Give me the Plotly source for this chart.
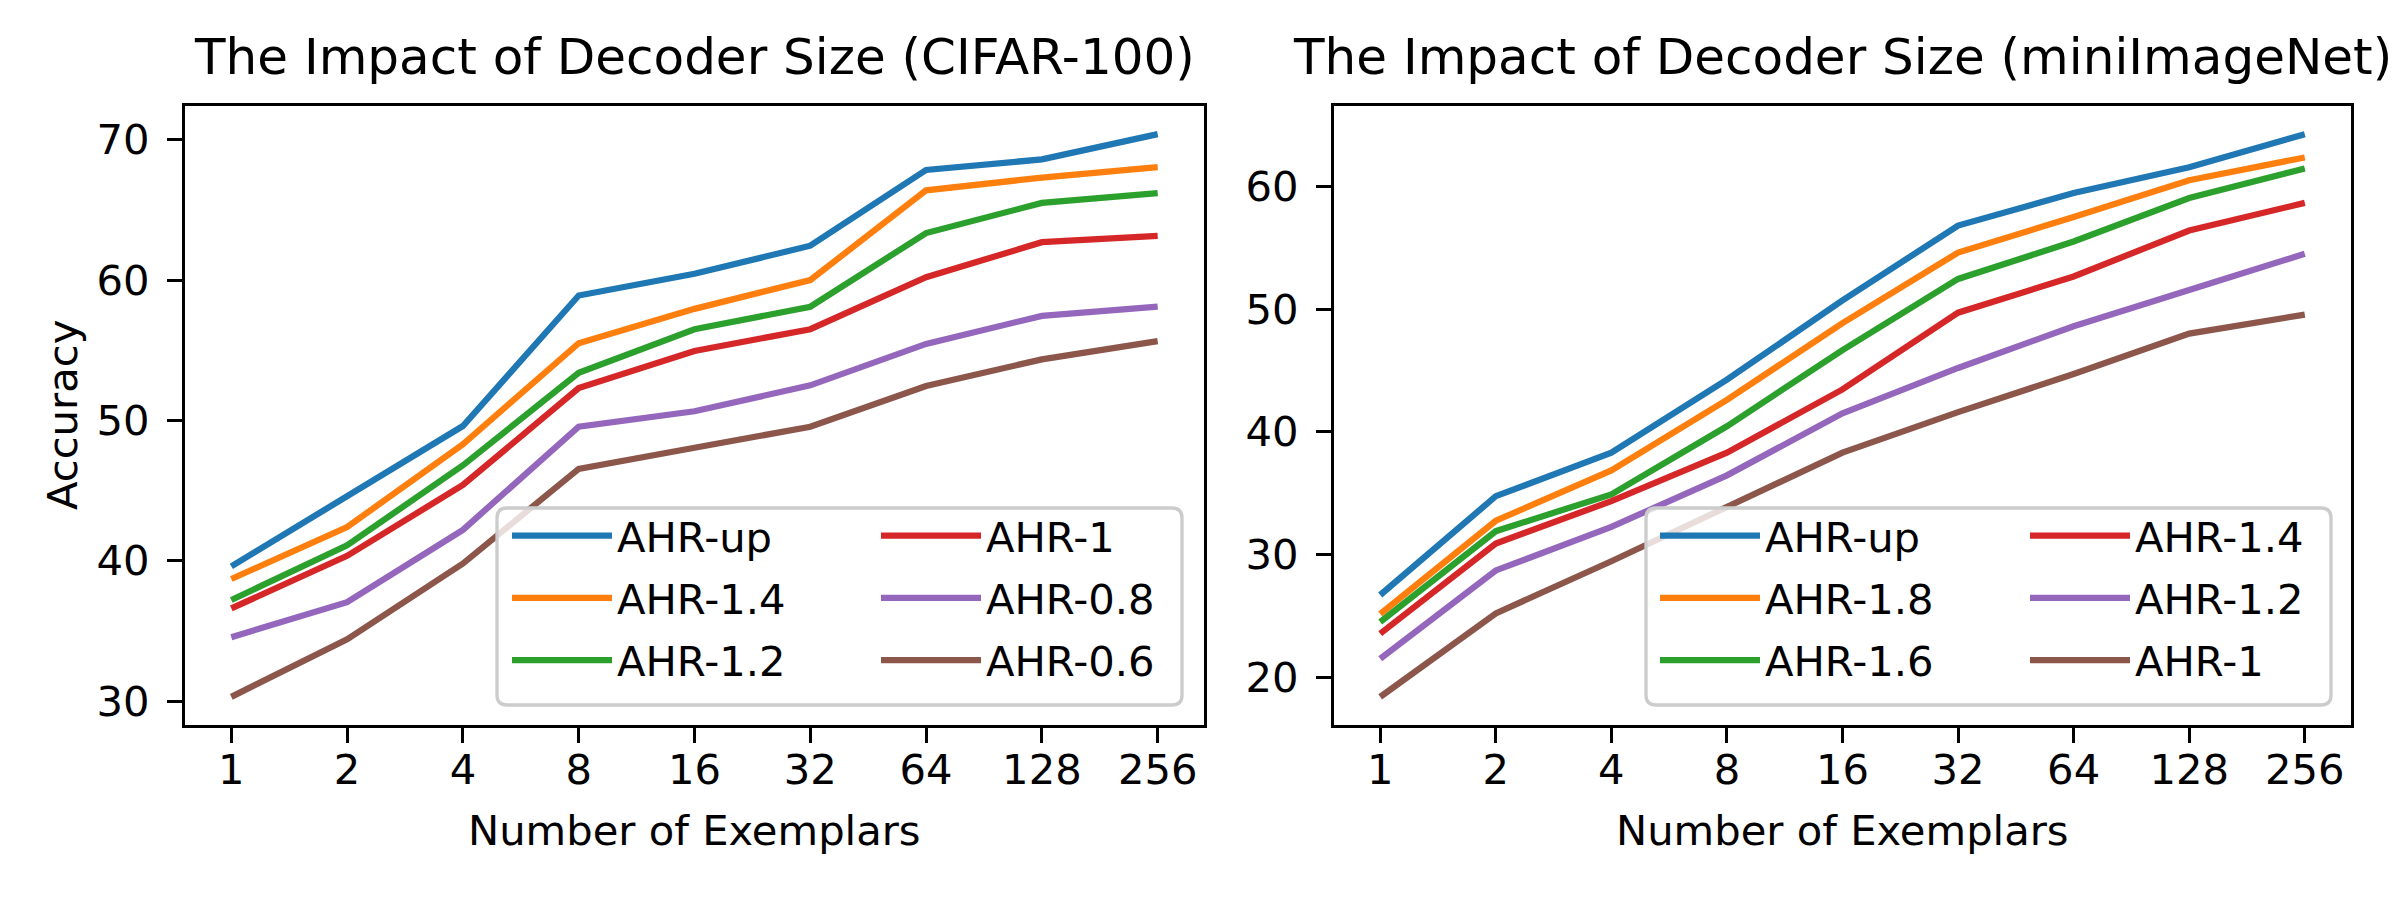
import plotly.graph_objects as go

exemplars = ["1", "2", "4", "8", "16", "32", "64", "128", "256"]

# CIFAR-100
cifar_names = ["AHR-up", "AHR-1.4", "AHR-1.2", "AHR-1", "AHR-0.8", "AHR-0.6"]
cifar_up = [39.6, 44.6, 49.6, 58.9, 60.45, 62.45, 67.85, 68.6, 70.4]
cifar_14 = [38.7, 42.4, 48.3, 55.5, 57.95, 60.0, 66.4, 67.3, 68.05]
cifar_12 = [37.2, 41.1, 46.8, 53.4, 56.5, 58.1, 63.35, 65.5, 66.2]
cifar_10 = [36.6, 40.35, 45.4, 52.3, 54.95, 56.5, 60.2, 62.7, 63.15]
cifar_08 = [34.55, 37.05, 42.2, 49.55, 50.65, 52.5, 55.45, 57.45, 58.1]
cifar_06 = [30.3, 34.4, 39.8, 46.55, 48.05, 49.55, 52.45, 54.35, 55.65]

# miniImageNet
mini_names = ["AHR-up", "AHR-1.8", "AHR-1.6", "AHR-1.4", "AHR-1.2", "AHR-1"]
mini_up = [26.7, 34.75, 38.3, 44.25, 50.7, 56.8, 59.45, 61.55, 64.25]
mini_18 = [25.15, 32.75, 36.85, 42.6, 48.85, 54.6, 57.5, 60.5, 62.35]
mini_16 = [24.5, 31.9, 34.9, 40.45, 46.65, 52.45, 55.5, 59.05, 61.45]
mini_14 = [23.55, 30.9, 34.35, 38.3, 43.45, 49.7, 52.65, 56.4, 58.65]
mini_12 = [21.5, 28.7, 32.25, 36.45, 41.5, 45.2, 48.6, 51.6, 54.5]
mini_10 = [18.4, 25.2, 29.45, 33.9, 38.3, 41.6, 44.7, 48.0, 49.55]

titles = ["The Impact of Decoder Size (CIFAR-100)", "The Impact of Decoder Size (miniImageNet)"]
colors = ["#1f77b4", "#ff7f0e", "#2ca02c", "#d62728", "#9467bd", "#8c564b"]

cifar_series = [cifar_up, cifar_14, cifar_12, cifar_10, cifar_08, cifar_06]
mini_series = [mini_up, mini_18, mini_16, mini_14, mini_12, mini_10]

W, H = 2400, 900
FONT = "DejaVu Sans"
FS = 41.7
TFS = 50
LW = 6.25
SPW = 3.3

fig = go.Figure()

legend_ids = [["legend", "legend2"], ["legend3", "legend4"]]
for p, (names, series) in enumerate([(cifar_names, cifar_series), (mini_names, mini_series)]):
    xa = "x" if p == 0 else "x2"
    ya = "y" if p == 0 else "y2"
    for i, (nm, ys) in enumerate(zip(names, series)):
        fig.add_trace(go.Scatter(
            x=exemplars, y=ys, name=nm, mode="lines",
            line=dict(color=colors[i], width=LW),
            xaxis=xa, yaxis=ya,
            legend=legend_ids[p][i // 3],
            legendgroup=f"g{p}_{i}",
            showlegend=True,
        ))

def yrange(series):
    lo = min(min(s) for s in series)
    hi = max(max(s) for s in series)
    m = (hi - lo) * 0.05
    return [lo - m, hi + m]

ml, mr, mt, mb = 0, 0, 106, 175
plot_h = H - mt - mb
dom1 = [185 / W, 1204 / W]
dom2 = [1334 / W, 2351 / W]

axis_common = dict(
    showline=True, mirror=True, linecolor="black", linewidth=SPW,
    ticks="outside", ticklen=15, tickwidth=SPW, tickcolor="black",
    showgrid=False, zeroline=False,
    tickfont=dict(family=FONT, size=FS, color="black"),
)

fig.update_layout(
    width=W, height=H,
    margin=dict(l=ml, r=mr, t=mt, b=mb),
    paper_bgcolor="white", plot_bgcolor="white",
    font=dict(family=FONT, size=FS, color="black"),
    xaxis=dict(domain=dom1, type="category", range=[-0.4, 8.4], anchor="y",
               ticklabelstandoff=-9, **axis_common),
    yaxis=dict(domain=[0, 1], range=yrange(cifar_series), anchor="x",
               tickvals=[30, 40, 50, 60, 70], ticklabelstandoff=9, **axis_common),
    xaxis2=dict(domain=dom2, type="category", range=[-0.4, 8.4], anchor="y2",
                ticklabelstandoff=-9, **axis_common),
    yaxis2=dict(domain=[0, 1], range=yrange(mini_series), anchor="x2",
                tickvals=[20, 30, 40, 50, 60], ticklabelstandoff=9, **axis_common),
    showlegend=True,
)

def px_x(v):
    return v / W

def px_y(v):
    return (H - mb - v) / plot_h

# legends: two columns per panel
leg_common = dict(
    bgcolor="rgba(0,0,0,0)", borderwidth=0,
    font=dict(family=FONT, size=FS, color="black"),
    itemwidth=100, tracegroupgap=5, traceorder="grouped",
    xanchor="left", yanchor="top", itemclick=False, itemdoubleclick=False,
)
leg_x = [[507, 876], [1655, 2025]]
for p in range(2):
    for c in range(2):
        lid = legend_ids[p][c]
        fig.update_layout(**{lid: dict(x=px_x(leg_x[p][c]), y=px_y(502), **leg_common)})

# legend frames
def rounded_box(x0, y0, x1, y1, r=10):
    X = lambda v: f"{v / W:.6f}"
    Y = lambda v: f"{px_y(v):.6f}"
    return (f"M {X(x0 + r)},{Y(y0)} L {X(x1 - r)},{Y(y0)} Q {X(x1)},{Y(y0)} {X(x1)},{Y(y0 + r)} "
            f"L {X(x1)},{Y(y1 - r)} Q {X(x1)},{Y(y1)} {X(x1 - r)},{Y(y1)} "
            f"L {X(x0 + r)},{Y(y1)} Q {X(x0)},{Y(y1)} {X(x0)},{Y(y1 - r)} "
            f"L {X(x0)},{Y(y0 + r)} Q {X(x0)},{Y(y0)} {X(x0 + r)},{Y(y0)} Z")

boxes = [(497, 508, 1182, 705), (1646, 508, 2331, 705)]
for b in boxes:
    fig.add_shape(type="path", path=rounded_box(*b), xref="paper", yref="paper",
                  fillcolor="rgba(255,255,255,0.8)", line=dict(color="#cccccc", width=SPW),
                  layer="above")

# titles and axis labels
for p, dom in enumerate([dom1, dom2]):
    cx = (dom[0] + dom[1]) / 2
    fig.add_annotation(text=titles[p], x=cx, y=1, xref="paper", yref="paper",
                       xanchor="center", yanchor="bottom", yshift=18, showarrow=False,
                       font=dict(family=FONT, size=TFS, color="black"))
    fig.add_annotation(text="Number of Exemplars", x=cx, y=px_y(830), xref="paper", yref="paper",
                       xanchor="center", yanchor="middle", showarrow=False,
                       font=dict(family=FONT, size=FS, color="black"))

fig.add_annotation(text="Accuracy", x=px_x(62), y=px_y(415), xref="paper", yref="paper",
                   xanchor="center", yanchor="middle", textangle=-90, showarrow=False,
                   font=dict(family=FONT, size=FS, color="black"))

fig.write_html("out.html", config={"displayModeBar": False},
               post_script="document.body.style.margin='0px';")
